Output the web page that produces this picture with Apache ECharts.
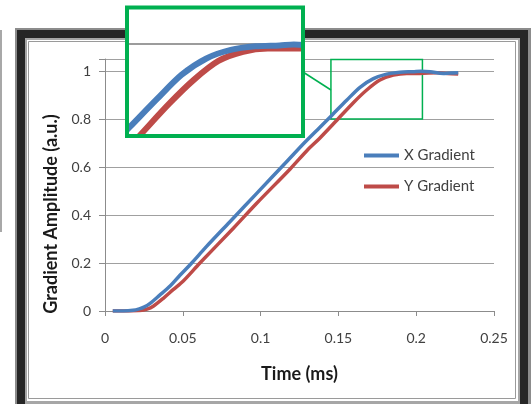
<!DOCTYPE html>
<html>
<head>
<meta charset="utf-8">
<script src="https://cdn.jsdelivr.net/npm/echarts@6/dist/echarts.min.js"></script>
<style>html,body{margin:0;padding:0;background:#fff}#c{width:532px;height:404px}</style>
</head>
<body>
<div id="c"></div>
<script>
// ---- data (Time in ms, amplitude in a.u.) ----
var xGradient = [[0.005,0],[0.012,0],[0.018,0.003],[0.022,0.009],[0.025,0.016],[0.029,0.032],[0.035,0.065],[0.042,0.105],[0.048,0.148],[0.055,0.195],[0.065,0.267],[0.080,0.37],[0.0975,0.49],[0.117,0.624],[0.128,0.70],[0.138,0.765],[0.1457,0.815],[0.1553,0.878],[0.1639,0.932],[0.1725,0.968],[0.181,0.987],[0.1896,0.995],[0.198,0.997],[0.203,0.999],[0.209,0.997],[0.2174,0.99],[0.222,0.992],[0.227,0.993]];
var yGradient = [[0.005,0],[0.015,0],[0.0225,0.002],[0.027,0.008],[0.031,0.02],[0.0375,0.053],[0.044,0.09],[0.0503,0.125],[0.061,0.2],[0.0825,0.345],[0.0975,0.449],[0.119,0.592],[0.130,0.67],[0.138,0.72],[0.149,0.795],[0.1596,0.868],[0.1682,0.921],[0.1767,0.9625],[0.1853,0.983],[0.1939,0.99],[0.2024,0.99],[0.2132,0.993],[0.220,0.99],[0.227,0.987]];
var seriesNames = ['X Gradient','Y Gradient'];
var yTicks = [0,0.2,0.4,0.6,0.8,1];
var xTicks = [0,0.05,0.1,0.15,0.2,0.25];
var zoomRegion = {x:[0.1452,0.204], y:[0.8,1.048]};
var insetRange = {x:[0.1455,0.2055], y:[0.8,1.077]};

var BLUE = '#4a7ebb', RED = '#be4b48', GREEN = '#00b050';
var FONT = 'Lato, "Liberation Sans", sans-serif';

var chart = echarts.init(document.getElementById('c'), null, {renderer:'canvas'});
chart.setOption({
  animation:false,
  backgroundColor:'#fff',
  grid:[
    {left:105, top:59, width:389, height:252},
    {left:129, top:9.5, width:172, height:124.5, show:true, backgroundColor:'#ffffff', borderWidth:0, z:50}
  ],
  xAxis:[
    {gridIndex:0, type:'value', min:0, max:0.25, interval:0.05,
     axisLine:{show:true, lineStyle:{color:'#8c8c8c', width:1}},
     axisTick:{show:true, length:5, lineStyle:{color:'#8c8c8c'}},
     axisLabel:{color:'#404040', fontFamily:FONT, fontSize:14, margin:20},
     splitLine:{show:false},
     name:'Time (ms)', nameLocation:'middle', nameGap:54,
     nameTextStyle:{color:'#1a1a1a', fontFamily:FONT, fontSize:18, fontWeight:'bold'}},
    {gridIndex:1, type:'value', min:insetRange.x[0], max:insetRange.x[1], show:false}
  ],
  yAxis:[
    {gridIndex:0, type:'value', min:0, max:1.05, interval:0.2,
     axisLine:{show:true, lineStyle:{color:'#8c8c8c', width:1}},
     axisTick:{show:true, length:6, lineStyle:{color:'#8c8c8c'}},
     axisLabel:{color:'#404040', fontFamily:FONT, fontSize:14, margin:14,
       formatter:function(v){ return yTicks.some(function(t){return Math.abs(t-v)<1e-6;}) ? String(Math.round(v*10)/10) : ''; }},
     splitLine:{show:true, lineStyle:{color:'#a0a0a0', width:1}},
     name:'Gradient Amplitude (a.u.)', nameLocation:'middle', nameGap:42,
     nameTextStyle:{color:'#1a1a1a', fontFamily:FONT, fontSize:18, fontWeight:'bold', padding:[0,58,0,0]}},
    {gridIndex:1, type:'value', min:insetRange.y[0], max:insetRange.y[1], show:false}
  ],
  legend:{
    data:seriesNames, orient:'vertical', left:364, top:148, padding:0, icon:'rect', itemWidth:35, itemHeight:4, itemGap:16,
    textStyle:{color:'#404040', fontFamily:FONT, fontSize:15}, selectedMode:false
  },
  graphic:[
    {type:'line', shape:{x1:1, y1:30, x2:1, y2:232}, style:{stroke:'#a8a8a8', lineWidth:2}, z:-10, silent:true},
    {type:'rect', shape:{x:15, y:28, width:516, height:390}, style:{fill:'#8c8c8c'}, z:-10, silent:true},
    {type:'rect', shape:{x:17, y:30, width:511, height:385}, style:{fill:'#262626'}, z:-10, silent:true},
    {type:'rect', shape:{x:25, y:38, width:495, height:370}, style:{fill:'#a6a6a6'}, z:-10, silent:true},
    {type:'rect', shape:{x:27, y:40, width:491, height:361}, style:{fill:'#ffffff'}, z:-10, silent:true},
    {type:'rect', shape:{x:28.5, y:41.5, width:487, height:357}, style:{fill:null, stroke:'#9a9a9a', lineWidth:1}, z:-10, silent:true},
    {type:'line', shape:{x1:303, y1:72, x2:331, y2:90}, style:{stroke:GREEN, lineWidth:1.5}, z:40, silent:true},
    {type:'rect', shape:{x:127, y:7.5, width:176, height:128.5}, style:{fill:'#ffffff'}, z:49, silent:true},
    {type:'rect', shape:{x:127, y:7.5, width:176, height:128.5}, style:{fill:null, stroke:GREEN, lineWidth:4}, z:70, silent:true}
  ],
  series:[
    {name:seriesNames[0], type:'line', xAxisIndex:0, yAxisIndex:0, data:xGradient, symbol:'none', smooth:0.3,
     lineStyle:{color:BLUE, width:3.5}, itemStyle:{color:BLUE}, z:3,
     markArea:{silent:true, itemStyle:{color:'rgba(0,0,0,0)', borderColor:GREEN, borderWidth:1.5},
       data:[[{coord:[zoomRegion.x[0], zoomRegion.y[1]]},{coord:[zoomRegion.x[1], zoomRegion.y[0]]}]]}},
    {name:seriesNames[1], type:'line', xAxisIndex:0, yAxisIndex:0, data:yGradient, symbol:'none', smooth:0.3,
     lineStyle:{color:RED, width:3.5}, itemStyle:{color:RED}, z:2},
    {name:seriesNames[0], type:'line', xAxisIndex:1, yAxisIndex:1, data:xGradient, symbol:'none', smooth:0.3, clip:true,
     lineStyle:{color:BLUE, width:6}, itemStyle:{color:BLUE}, z:61,
     markLine:{silent:true, z:59, symbol:'none', label:{show:false}, animation:false,
       lineStyle:{color:'#9c9c9c', width:2, type:'solid', opacity:1}, data:[{yAxis:1}]}},
    {name:seriesNames[1], type:'line', xAxisIndex:1, yAxisIndex:1, data:yGradient, symbol:'none', smooth:0.3, clip:true,
     lineStyle:{color:RED, width:6}, itemStyle:{color:RED}, z:60}
  ]
});
</script>
</body>
</html>
